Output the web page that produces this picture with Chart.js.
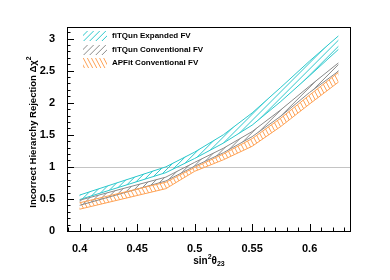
<!DOCTYPE html>
<html><head><meta charset="utf-8">
<script src="https://cdn.jsdelivr.net/npm/chart.js@4.4.1/dist/chart.umd.min.js"></script>
<style>html,body{margin:0;padding:0;background:#fff}</style>
</head><body>
<canvas id="c" width="390" height="280" style="width:390px;height:280px;display:block"></canvas>
<script>
// ---- data ----
const sin2Theta23 = [0.4, 0.475, 0.5, 0.525, 0.55, 0.575, 0.6, 0.625];
const fitqunExpandedUpper = [0.56, 1.00, 1.23, 1.50, 1.84, 2.24, 2.65, 3.04];
const fitqunExpandedLower = [0.49, 0.91, 1.13, 1.37, 1.65, 2.02, 2.42, 2.83];
const fitqunConvUpper     = [0.48, 0.84, 1.07, 1.29, 1.55, 1.89, 2.26, 2.62];
const fitqunConvLower     = [0.40, 0.78, 1.01, 1.22, 1.47, 1.79, 2.16, 2.49];
const apfitConvUpper      = [0.44, 0.76, 0.99, 1.20, 1.44, 1.76, 2.12, 2.47];
const apfitConvLower      = [0.34, 0.66, 0.93, 1.11, 1.32, 1.63, 1.98, 2.32];
const legendLabels = ["fiTQun Expanded FV", "fiTQun Conventional FV", "APFit Conventional FV"];
const xTickLabels = ["0.4", "0.45", "0.5", "0.55", "0.6"];
const yTickLabels = ["0", "0.5", "1", "1.5", "2", "2.5", "3"];
const xTitleParts = [["sin", 0], ["2", 1], ["θ", 0], ["23", -1]];
const yTitleParts = [["Incorrect Hierarchy Rejection Δχ", 0], ["2", 1]];
const referenceLevel = 1;

const FONT = "'Liberation Sans', Arial, Helvetica, sans-serif";
const CYAN = '#2cc8cc', GRAY = '#8a8a8a', ORANGE = '#ffa255';
// hatch styles: [colour, line angle (deg, math orientation), perpendicular spacing px]
const HATCH = [[CYAN, 45, 4.3], [GRAY, 45, 4.3], [ORANGE, 118, 3.6]];

const pts = arr => sin2Theta23.map((x, i) => ({x: x, y: arr[i]}));
const line = (arr, color) => ({data: pts(arr), borderColor: color, borderWidth: 1, pointRadius: 0, fill: false, tension: 0});
// dataset order: orange band, gray band, cyan band (lower, upper)
const datasets = [
  line(apfitConvLower, ORANGE), line(apfitConvUpper, ORANGE),
  line(fitqunConvLower, GRAY), line(fitqunConvUpper, GRAY),
  line(fitqunExpandedLower, CYAN), line(fitqunExpandedUpper, CYAN)
];
const bandOf = [[4, 5, 0], [2, 3, 1], [0, 1, 2]]; // [lowerIdx, upperIdx, hatchIdx] draw order

const xTickValues = []; for (let i = 39; i <= 63; i++) xTickValues.push(i / 100);
const yTickValues = []; for (let i = 0; i <= 31; i++) yTickValues.push(i / 10);
const xMajor = xTickLabels.map(Number), yMajor = yTickLabels.map(Number);
const isMajor = (v, list) => list.some(m => Math.abs(m - v) < 1e-9);

function hatchLines(ctx, box, style) {
  const [color, ang, sp] = style;
  const a = ang * Math.PI / 180;
  const dx = Math.cos(a), dy = -Math.sin(a);
  const nx = -dy, ny = dx;
  const cx = (box.left + box.right) / 2, cy = (box.top + box.bottom) / 2;
  const R = Math.hypot(box.right - box.left, box.bottom - box.top);
  ctx.strokeStyle = color; ctx.lineWidth = 1;
  ctx.beginPath();
  for (let t = -R; t <= R; t += sp) {
    const px = cx + nx * t, py = cy + ny * t;
    ctx.moveTo(px - dx * R, py - dy * R); ctx.lineTo(px + dx * R, py + dy * R);
  }
  ctx.stroke();
}

function richText(ctx, parts, size) {
  const small = Math.round(size * 0.7);
  const fonts = parts.map(p => 'bold ' + (p[1] ? small : size) + 'px ' + FONT);
  let total = 0;
  const widths = parts.map((p, i) => { ctx.font = fonts[i]; const w = ctx.measureText(p[0]).width; total += w; return w; });
  let x = -total / 2;
  parts.forEach((p, i) => {
    ctx.font = fonts[i];
    const dy = p[1] > 0 ? -size * 0.4 : (p[1] < 0 ? size * 0.3 : 0);
    ctx.fillText(p[0], x, dy);
    x += widths[i];
  });
}

const decor = {
  id: 'decor',
  beforeDatasetsDraw(chart) {
    const {ctx, chartArea: a, scales: {y}} = chart;
    ctx.save();
    const py = Math.round(y.getPixelForValue(referenceLevel)) + 0.5;
    ctx.strokeStyle = '#c4c4c4'; ctx.lineWidth = 1;
    ctx.beginPath(); ctx.moveTo(a.left, py); ctx.lineTo(a.right, py); ctx.stroke();
    // hatched bands between lower and upper curves
    bandOf.slice().reverse().forEach(([lo, up, h]) => {
      const L = chart.getDatasetMeta(lo).data, U = chart.getDatasetMeta(up).data;
      ctx.save();
      ctx.beginPath();
      L.forEach((p, i) => i ? ctx.lineTo(p.x, p.y) : ctx.moveTo(p.x, p.y));
      for (let i = U.length - 1; i >= 0; i--) ctx.lineTo(U[i].x, U[i].y);
      ctx.closePath();
      ctx.clip();
      hatchLines(ctx, a, HATCH[h]);
      ctx.restore();
    });
    ctx.restore();
  },
  afterDraw(chart) {
    const {ctx, chartArea: a, scales: {x, y}} = chart;
    ctx.save();
    ctx.strokeStyle = '#000'; ctx.lineWidth = 1;
    ctx.strokeRect(a.left + 0.5, a.top + 0.5, a.right - a.left - 1, a.bottom - a.top);
    ctx.beginPath();
    x.ticks.forEach(t => {
      const px = Math.round(x.getPixelForValue(t.value)) + 0.5;
      const len = isMajor(t.value, xMajor) ? 7 : 3.5;
      ctx.moveTo(px, a.bottom); ctx.lineTo(px, a.bottom - len);
    });
    y.ticks.forEach(t => {
      const py = Math.round(y.getPixelForValue(t.value)) + 0.5;
      const len = isMajor(t.value, yMajor) ? 7 : 3.5;
      ctx.moveTo(a.left, py); ctx.lineTo(a.left + len, py);
    });
    ctx.stroke();
    // axis titles
    ctx.fillStyle = '#000'; ctx.textBaseline = 'middle'; ctx.textAlign = 'left';
    ctx.save(); ctx.translate((a.left + a.right) / 2, 261); richText(ctx, xTitleParts, 10); ctx.restore();
    ctx.save(); ctx.translate(33, (a.top + a.bottom) / 2 + 3); ctx.rotate(-Math.PI / 2); richText(ctx, yTitleParts, 9.5); ctx.restore();
    // legend
    const rows = [36, 50, 63];
    legendLabels.forEach((lab, i) => {
      const box = {left: 83, right: 107, top: rows[i] - 5, bottom: rows[i] + 5};
      ctx.save();
      ctx.beginPath(); ctx.rect(box.left, box.top, 24, 10); ctx.clip();
      hatchLines(ctx, box, HATCH[i]);
      ctx.restore();
      ctx.font = 'bold 8px ' + FONT; ctx.fillStyle = '#000';
      ctx.fillText(lab, 112, rows[i]);
    });
    ctx.restore();
  }
};

new Chart(document.getElementById('c'), {
  type: 'line',
  data: {datasets},
  plugins: [decor],
  options: {
    responsive: false, animation: false, devicePixelRatio: 1,
    layout: {padding: {top: 27, right: 39, left: 0, bottom: 0}},
    plugins: {legend: {display: false}, tooltip: {enabled: false}},
    scales: {
      x: {
        type: 'linear', min: 0.389, max: 0.636,
        afterBuildTicks: s => { s.ticks = xTickValues.map(v => ({value: v})); },
        afterFit: s => { s.height = 49; },
        grid: {display: false}, border: {display: false},
        ticks: {autoSkip: false, maxRotation: 0, padding: 3, color: '#000',
          font: {family: FONT, size: 11, weight: 'bold'},
          callback: v => { const i = xMajor.findIndex(m => Math.abs(m - v) < 1e-9); return i >= 0 ? xTickLabels[i] : ''; }},
        title: {display: false}
      },
      y: {
        type: 'linear', min: 0, max: 3.18,
        afterBuildTicks: s => { s.ticks = yTickValues.map(v => ({value: v})); },
        afterFit: s => { s.width = 67; },
        grid: {display: false}, border: {display: false},
        ticks: {autoSkip: false, padding: 4, color: '#000',
          font: {family: FONT, size: 11, weight: 'bold'},
          callback: v => { const i = yMajor.findIndex(m => Math.abs(m - v) < 1e-9); return i >= 0 ? yTickLabels[i] : ''; }},
        title: {display: false}
      }
    }
  }
});
</script>
</body></html>
